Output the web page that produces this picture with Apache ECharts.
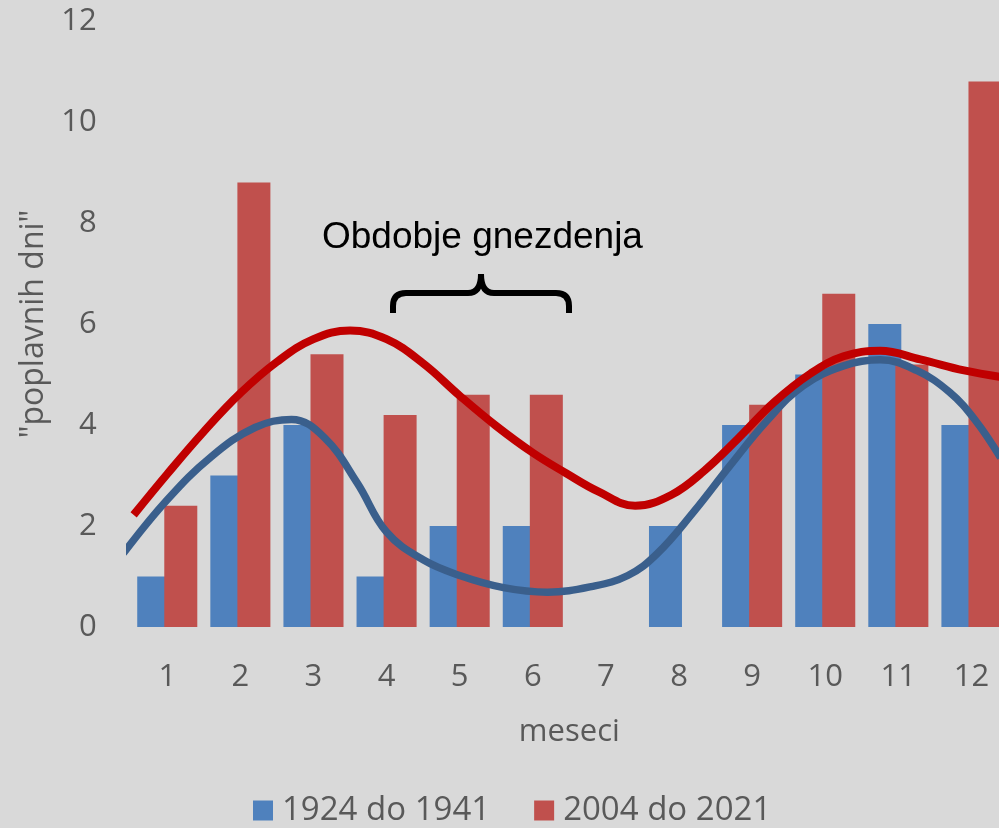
<!DOCTYPE html>
<html><head><meta charset="utf-8">
<script src="https://cdn.jsdelivr.net/npm/echarts@6/dist/echarts.min.js"></script>
<style>html,body{margin:0;padding:0;overflow:hidden;background:#d9d9d9;width:999px;height:828px}#c{width:1008px;height:828px}</style>
</head><body><div id="c"></div>
<script>
const months = ['1','2','3','4','5','6','7','8','9','10','11','12'];
const yTicks = [0, 2, 4, 6, 8, 10, 12];
const early = [1, 3, 4, 1, 2, 2, 0, 2, 4, 5, 6, 4];          // 1924 do 1941
const recent = [2.4, 8.8, 5.4, 4.2, 4.6, 4.6, 0, 0, 4.4, 6.6, 5.2, 10.8]; // 2004 do 2021
// trend curves: [month position, value]
const earlyTrend = [[0.40,1.46],[1.0,2.52],[1.6,3.37],[2.2,3.95],[2.7,4.11],[3.15,3.75],[3.6,2.85],[4.0,1.88],[4.5,1.33],[5.0,1.02],[5.6,0.78],[6.2,0.69],[6.8,0.8],[7.3,1.02],[7.7,1.45],[8.2,2.28],[8.7,3.2],[9.2,4.08],[9.7,4.78],[10.25,5.17],[10.75,5.29],[11.25,5.08],[11.7,4.65],[12.05,4.1],[12.4,3.35]];
const recentTrend = [[0.54,2.22],[1.0,3.03],[1.5,3.87],[2.0,4.63],[2.5,5.25],[3.0,5.7],[3.5,5.87],[4.0,5.7],[4.5,5.22],[5.0,4.58],[5.5,3.98],[6.0,3.45],[6.45,3.05],[6.9,2.68],[7.4,2.40],[7.9,2.62],[8.35,3.1],[8.8,3.72],[9.3,4.45],[9.8,5.02],[10.25,5.36],[10.75,5.47],[11.3,5.3],[11.9,5.08],[12.4,4.95]];
const seriesNames = ['1924 do 1941', '2004 do 2021'];
const xName = 'meseci';
const yName = '"poplavnih dni"';
const annotation = 'Obdobje gnezdenja';

const chart = echarts.init(document.getElementById('c'), null, {renderer: 'canvas'});
const txt = '#595959';
const font = '"Open Sans", "Noto Sans", sans-serif';
const braceStyle = {stroke: '#000', lineWidth: 6, fill: null};
chart.setOption({
  backgroundColor: '#d9d9d9',
  animation: false,
  textStyle: {fontFamily: font},
  grid: {left: 130.7, right: 0, top: 21, bottom: 201, containLabel: false},
  legend: {
    data: seriesNames, bottom: -4, left: 248, itemWidth: 20, itemHeight: 20, itemGap: 44,
    icon: 'rect',
    textStyle: {color: txt, fontSize: 33, fontFamily: font, padding: [0, 0, 0, 4]}
  },
  xAxis: [{
    type: 'category', data: months, boundaryGap: true,
    axisLine: {show: false}, axisTick: {show: false}, splitLine: {show: false},
    axisLabel: {color: txt, fontSize: 31, margin: 35, fontFamily: font},
    name: xName, nameLocation: 'middle', nameGap: 90,
    nameTextStyle: {color: txt, fontSize: 31, fontFamily: font}
  }, {
    type: 'value', min: 0.5, max: 12.5, show: false
  }],
  yAxis: {
    type: 'value', min: 0, max: 12, interval: 2,
    axisLine: {show: false}, axisTick: {show: false}, splitLine: {show: false},
    axisLabel: {color: txt, fontSize: 31, margin: 34, fontFamily: font, formatter: v => yTicks.includes(v) ? String(v) : ''},
    name: yName, nameLocation: 'middle', nameGap: 78, nameRotate: 90,
    nameTextStyle: {color: txt, fontSize: 32, fontFamily: font}
  },
  series: [
    {name: seriesNames[0], type: 'bar', data: early, barWidth: 33, barGap: '-18%',
     itemStyle: {color: '#4f81bd'}},
    {name: seriesNames[1], type: 'bar', data: recent, barWidth: 33,
     itemStyle: {color: '#c0504d'}},
    {name: 'trend1', type: 'line', xAxisIndex: 1, data: earlyTrend, smooth: 0.4, showSymbol: false, symbol: 'none', clip: false,
     lineStyle: {color: '#3a5f8c', width: 7.5, cap: 'butt'}, z: 5},
    {name: 'trend2', type: 'line', xAxisIndex: 1, data: recentTrend, smooth: 0.4, showSymbol: false, symbol: 'none', clip: false,
     lineStyle: {color: '#c00000', width: 8, cap: 'butt'}, z: 6}
  ],
  graphic: [
    {type: 'text', x: 322, y: 219, style: {text: annotation, fill: '#000', font: '37px "Liberation Sans", Arial, sans-serif'}},
    {type: 'line', shape: {x1: 393, y1: 313, x2: 393, y2: 306}, style: braceStyle},
    {type: 'bezierCurve', shape: {x1: 393, y1: 306, cpx1: 393, cpy1: 293, x2: 406, y2: 293}, style: braceStyle},
    {type: 'line', shape: {x1: 406, y1: 293, x2: 468, y2: 293}, style: braceStyle},
    {type: 'bezierCurve', shape: {x1: 468, y1: 293, cpx1: 481, cpy1: 293, x2: 481, y2: 274}, style: braceStyle},
    {type: 'bezierCurve', shape: {x1: 481, y1: 274, cpx1: 481, cpy1: 293, x2: 494, y2: 293}, style: braceStyle},
    {type: 'line', shape: {x1: 494, y1: 293, x2: 556, y2: 293}, style: braceStyle},
    {type: 'bezierCurve', shape: {x1: 556, y1: 293, cpx1: 569, cpy1: 293, x2: 569, y2: 306}, style: braceStyle},
    {type: 'line', shape: {x1: 569, y1: 306, x2: 569, y2: 313}, style: braceStyle}
  ]
});
</script></body></html>
